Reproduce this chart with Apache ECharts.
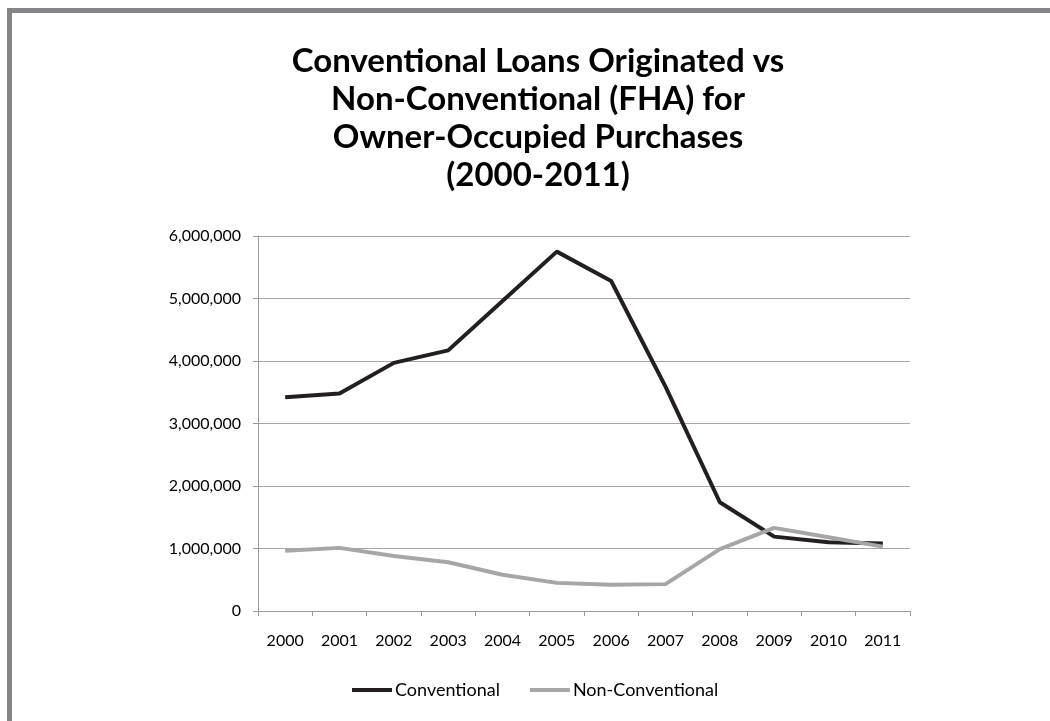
<!DOCTYPE html>
<html>
<head>
<meta charset="utf-8">
<script src="https://cdn.jsdelivr.net/npm/echarts@6/dist/echarts.min.js"></script>
<style>
html,body{margin:0;padding:0;background:#fff;}
#chart{width:1050px;height:721px;}
</style>
</head>
<body>
<div id="chart"></div>
<script>
const years = ['2000','2001','2002','2003','2004','2005','2006','2007','2008','2009','2010','2011'];
const conventional = [3420000,3480000,3970000,4170000,4960000,5750000,5280000,3590000,1740000,1190000,1100000,1080000];
const nonConventional = [965000,1010000,880000,780000,580000,450000,420000,430000,990000,1330000,1180000,1030000];
const yTicks = [0,1000000,2000000,3000000,4000000,5000000,6000000];

const FONT = 'Lato, "Open Sans", sans-serif';
const chart = echarts.init(document.getElementById('chart'), null, {renderer:'canvas'});
chart.setOption({
  backgroundColor:'#fff',
  animation:false,
  graphic:[{
    type:'rect', silent:true,
    shape:{x:9.5,y:10.5,width:1200,height:900},
    style:{fill:'none',stroke:'#858589',lineWidth:5}
  }],
  title:{
    text:'Conventional Loans Originated vs\nNon-Conventional (FHA) for\nOwner-Occupied Purchases\n(2000-2011)',
    left:533, top:37, textAlign:'center',
    textStyle:{fontFamily:FONT,fontWeight:'bold',fontSize:33,lineHeight:38,color:'#000'}
  },
  legend:{
    left:347, top:676, itemWidth:40, itemHeight:4, itemGap:30,
    icon:'rect',
    textStyle:{fontFamily:FONT,fontSize:18,color:'#000',padding:[0,0,0,-2]},
    data:['Conventional','Non-Conventional']
  },
  grid:{left:258,right:140,top:236,bottom:110,containLabel:false},
  xAxis:{
    type:'category', data:years, boundaryGap:true,
    axisLine:{lineStyle:{color:'#9a9a9a',width:1}},
    axisTick:{show:true,length:5,interval:0,lineStyle:{color:'#9a9a9a'}},
    axisLabel:{fontFamily:FONT,fontSize:16,color:'#000',margin:22,interval:0}
  },
  yAxis:{
    type:'value', min:0, max:6000000, interval:1000000,
    axisLine:{show:true,lineStyle:{color:'#9a9a9a',width:1}},
    axisTick:{show:true,length:5,lineStyle:{color:'#9a9a9a'}},
    splitLine:{lineStyle:{color:'#a6a6a6',width:1}},
    axisLabel:{fontFamily:FONT,fontSize:16,color:'#000',margin:17,
      formatter:v=>v.toLocaleString('en-US')}
  },
  series:[
    {name:'Conventional',type:'line',data:conventional,symbol:'none',
      lineStyle:{color:'#231f20',width:4},itemStyle:{color:'#231f20'}},
    {name:'Non-Conventional',type:'line',data:nonConventional,symbol:'none',
      lineStyle:{color:'#a6a6a6',width:4},itemStyle:{color:'#a6a6a6'}}
  ]
});
</script>
</body>
</html>
